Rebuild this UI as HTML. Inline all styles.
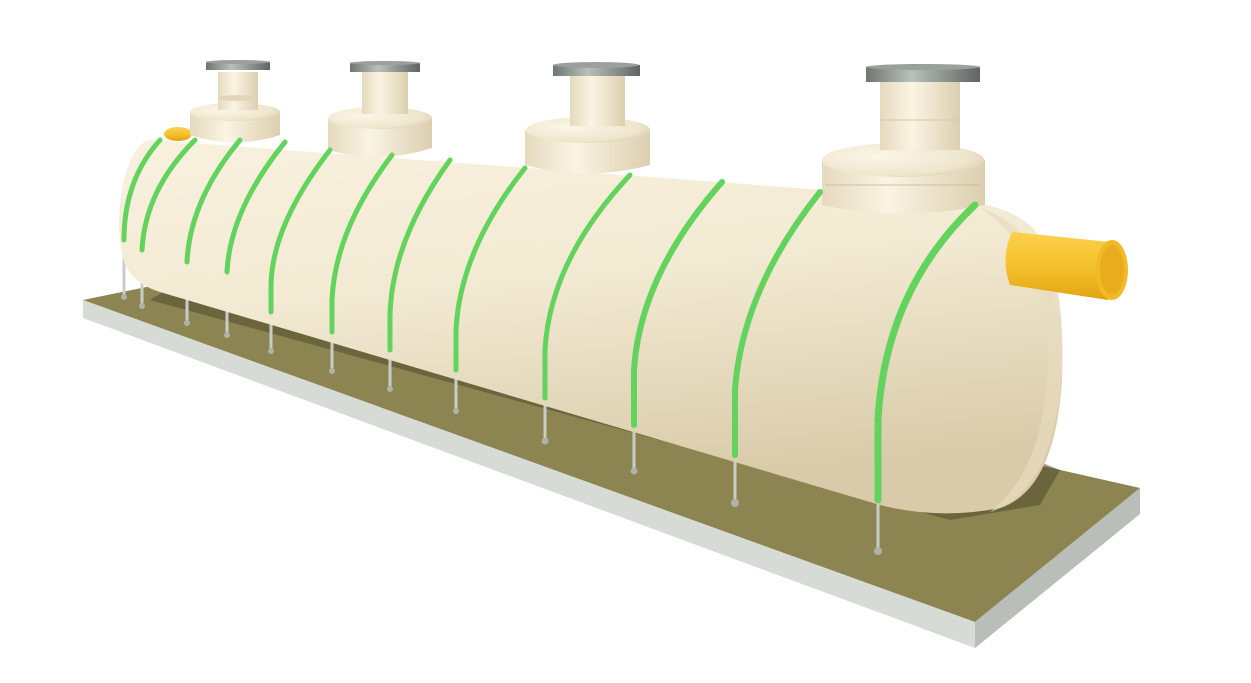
<!DOCTYPE html>
<html><head><meta charset="utf-8"><style>
html,body{margin:0;padding:0;background:#fff;width:1251px;height:683px;overflow:hidden}
</style></head><body>
<svg width="1251" height="683" viewBox="0 0 1251 683" xmlns="http://www.w3.org/2000/svg">
<defs>
<linearGradient id="tank" x1="0" y1="0" x2="0.25" y2="1">
<stop offset="0" stop-color="#f8f1de"/><stop offset="0.45" stop-color="#f3ead3"/><stop offset="1" stop-color="#d9cba9"/>
</linearGradient>
<radialGradient id="cap" cx="0.35" cy="0.4" r="0.8">
<stop offset="0" stop-color="#fbf6e8"/><stop offset="0.7" stop-color="#efe5cc"/><stop offset="1" stop-color="#d3c4a1"/>
</radialGradient>
<linearGradient id="riser" x1="0" y1="0" x2="1" y2="0">
<stop offset="0" stop-color="#e6dabd"/><stop offset="0.4" stop-color="#faf4e4"/><stop offset="1" stop-color="#dccfae"/>
</linearGradient>
<linearGradient id="lid" x1="0" y1="0" x2="1" y2="0">
<stop offset="0" stop-color="#6f7672"/><stop offset="0.4" stop-color="#b9c0bc"/><stop offset="1" stop-color="#5e6562"/>
</linearGradient>
<linearGradient id="pipe" x1="0" y1="0" x2="0" y2="1">
<stop offset="0" stop-color="#fbd04a"/><stop offset="0.5" stop-color="#f5c22d"/><stop offset="1" stop-color="#e0a412"/>
</linearGradient>
</defs>
<polygon points="83,300 200,276 1140,488 975,622" fill="#8c8551"/>
<polygon points="83,300 975,622 975,648 83,318" fill="#d6dbd5"/>
<polygon points="975,622 1140,488 1140,514 975,648" fill="#b9beb8"/>
<polygon points="150,300 950,520 1040,505 1060,470 1010,450 200,270" fill="#4e4a2c" opacity="0.55"/>
<g stroke="#c9cdc8" stroke-width="3">
<line x1="124" y1="240" x2="124" y2="296"/><line x1="142" y1="250" x2="142" y2="305"/>
<line x1="187" y1="262" x2="187" y2="322"/><line x1="227" y1="272" x2="227" y2="334"/>
<line x1="271" y1="285" x2="271" y2="350"/><line x1="332" y1="300" x2="332" y2="370"/>
<line x1="390" y1="315" x2="390" y2="388"/><line x1="456" y1="330" x2="456" y2="410"/>
<line x1="545" y1="350" x2="545" y2="440"/><line x1="634" y1="370" x2="634" y2="470"/>
<line x1="735" y1="390" x2="735" y2="502"/><line x1="878" y1="420" x2="878" y2="550"/>
</g>
<g fill="#aeb2ad">
<circle cx="124" cy="297" r="3"/><circle cx="142" cy="306" r="3"/><circle cx="187" cy="323" r="3"/><circle cx="227" cy="335" r="3"/><circle cx="271" cy="351" r="3"/><circle cx="332" cy="371" r="3"/><circle cx="390" cy="389" r="3"/><circle cx="456" cy="411" r="3"/><circle cx="545" cy="441" r="3.5"/><circle cx="634" cy="471" r="3.5"/><circle cx="735" cy="503" r="4"/><circle cx="878" cy="551" r="4"/>
</g>
<ellipse cx="178" cy="134" rx="14" ry="7" fill="url(#pipe)"/>
<path d="M150,140 Q135,142 125,175 Q115,215 122,255 Q128,282 160,292 L880,505 Q940,520 1000,508 Q1055,490 1062,380 Q1066,260 1030,225 Q1005,205 960,200 Z" fill="url(#tank)"/>
<path d="M980,208 Q1055,230 1062,360 Q1058,490 990,512 Q1045,470 1048,360 Q1045,250 980,208 Z" fill="#e8dcbe" opacity="0.7"/>
<g>
<path d="M190,112 L280,112 L280,135 Q235,150 190,135 Z" fill="url(#riser)"/><ellipse cx="235" cy="112" rx="45" ry="9" fill="url(#cap)"/>
<rect x="218" y="72" width="40" height="38" fill="url(#riser)"/><ellipse cx="238" cy="98" rx="20" ry="3" fill="#e2d6b8"/>
<rect x="206" y="62" width="64" height="8" fill="url(#lid)"/><ellipse cx="238" cy="62" rx="32" ry="2" fill="#9aa19d"/>
<path d="M328,118 L432,118 L432,148 Q380,165 328,150 Z" fill="url(#riser)"/><ellipse cx="380" cy="118" rx="52" ry="11" fill="url(#cap)"/>
<rect x="362" y="72" width="46" height="42" fill="url(#riser)"/>
<rect x="350" y="63" width="70" height="9" fill="url(#lid)"/><ellipse cx="385" cy="63" rx="35" ry="2" fill="#9aa19d"/>
<path d="M525,130 L650,130 L650,165 Q588,182 525,165 Z" fill="url(#riser)"/><ellipse cx="588" cy="130" rx="62" ry="13" fill="url(#cap)"/>
<rect x="570" y="76" width="55" height="50" fill="url(#riser)"/>
<rect x="553" y="65" width="87" height="11" fill="url(#lid)"/><ellipse cx="596" cy="65" rx="43" ry="3" fill="#9aa19d"/>
<path d="M822,160 L985,160 L985,205 Q900,222 822,205 Z" fill="url(#riser)"/><ellipse cx="903" cy="160" rx="81" ry="17" fill="url(#cap)"/>
<line x1="826" y1="185" x2="982" y2="185" stroke="#cdbf9e" stroke-width="1"/>
<rect x="880" y="82" width="80" height="68" fill="url(#riser)"/><line x1="880" y1="120" x2="960" y2="120" stroke="#d6c9a8"/>
<rect x="866" y="67" width="114" height="15" fill="url(#lid)"/><ellipse cx="923" cy="67" rx="57" ry="3" fill="#9aa19d"/>
</g>
<g fill="none" stroke="#62d35c" stroke-width="5" stroke-linecap="round">
<path d="M160,140 Q124,180 124,240"/>
<path d="M195,140 Q145,190 142,250"/>
<path d="M240,140 Q190,200 187,262"/>
<path d="M285,142 Q230,210 227,272"/>
<path d="M330,150 Q272,225 271,285"/>
<path d="M392,155 Q335,230 332,300"/>
<path d="M450,160 Q392,240 390,315"/>
<path d="M525,168 Q460,250 456,330"/>
<path d="M630,175 Q550,260 545,350"/>
<path d="M722,182 Q640,275 634,370" stroke-width="6"/>
<path d="M820,192 Q742,290 735,390" stroke-width="6"/>
<path d="M975,205 Q885,290 878,420" stroke-width="7"/>
<path d="M878,420 L878,500" stroke-width="7"/>
<path d="M735,390 L735,455" stroke-width="6"/><path d="M634,370 L634,425" stroke-width="6"/>
<path d="M545,350 L545,398"/><path d="M456,330 L456,370"/><path d="M390,315 L390,350"/><path d="M332,300 L332,332"/><path d="M271,285 L271,312"/>
</g>
<path d="M1012,232 L1110,242 L1108,300 L1010,285 Q1000,258 1012,232 Z" fill="url(#pipe)"/>
<ellipse cx="1112" cy="270" rx="16" ry="30" fill="#f2bb26"/>
<ellipse cx="1112" cy="270" rx="12" ry="25" fill="#e9ac1c"/>
</svg>
</body></html>
